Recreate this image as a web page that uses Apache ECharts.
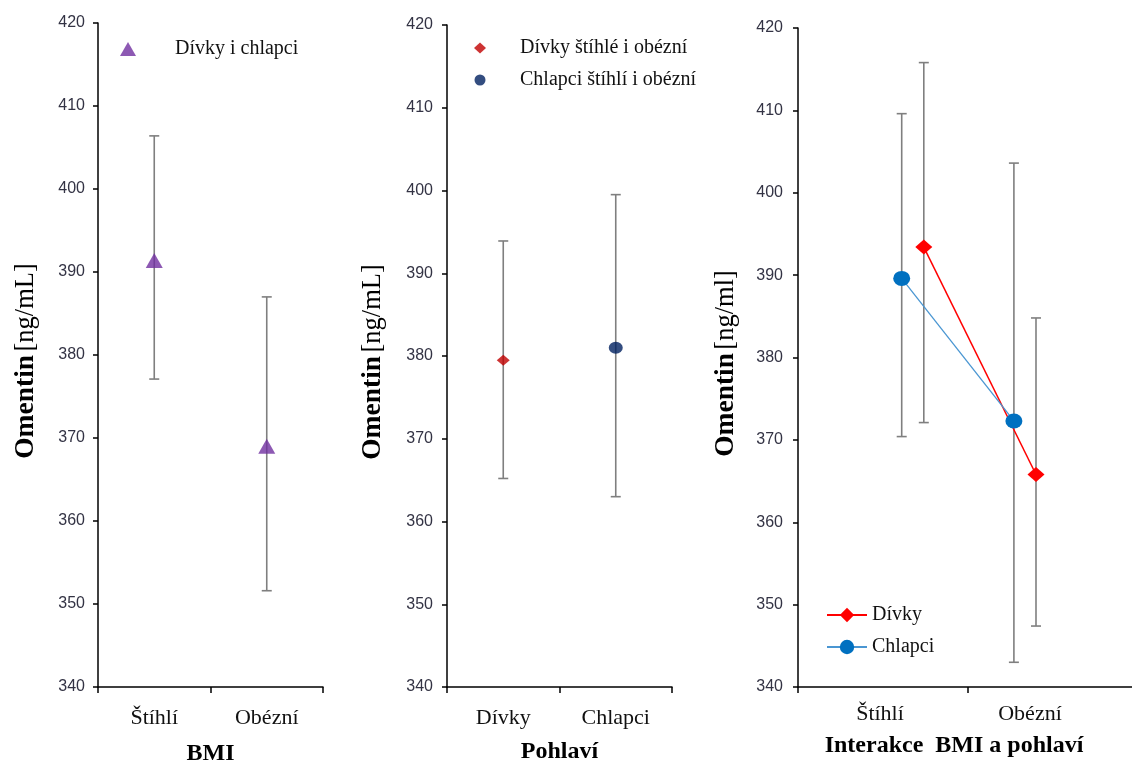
<!DOCTYPE html>
<html>
<head>
<meta charset="utf-8">
<script src="https://cdn.jsdelivr.net/npm/echarts@6/dist/echarts.min.js"></script>
<style>
html,body{margin:0;padding:0;background:#fff;}
#c{width:1132px;height:765px;}
</style>
</head>
<body>
<div id="c"></div>
<script>
// ---- data ----
var yTicks = [340, 350, 360, 370, 380, 390, 400, 410, 420];
var bmiCategories = ['Štíhlí', 'Obézní'];
var bmiMean = [391.4, 369.0];
var bmiLow = [377.1, 351.6];
var bmiHigh = [406.4, 387.0];

var sexCategories = ['Dívky', 'Chlapci'];
var girlsAllMean = [379.5];
var girlsAllLow = [365.2];
var girlsAllHigh = [393.9];
var boysAllMean = [381.0];
var boysAllLow = [363.0];
var boysAllHigh = [399.5];

var interCategories = ['Štíhlí', 'Obézní'];
var girlsX = [0.74, 1.40];
var girlsMean = [393.4, 365.8];
var girlsLow = [372.1, 347.4];
var girlsHigh = [415.8, 384.8];
var boysX = [0.61, 1.27];
var boysMean = [389.6, 372.3];
var boysLow = [370.4, 343.0];
var boysHigh = [409.6, 403.6];

// ---- helpers ----
var SERIF = '"Liberation Serif", "Times New Roman", serif';
var SANS = '"Liberation Sans", Arial, sans-serif';
var ERR = '#7f7f7f';

function errSeries(name, xi, yi, rows) {
  return {
    type: 'custom', name: name, xAxisIndex: xi, yAxisIndex: yi, z: 1, silent: true,
    data: rows,
    renderItem: function (params, api) {
      var x = api.value(0);
      var p1 = api.coord([x, api.value(1)]);
      var p2 = api.coord([x, api.value(2)]);
      var cw = 5;
      var st = { stroke: ERR, lineWidth: 1.6 };
      return { type: 'group', children: [
        { type: 'line', shape: { x1: p1[0], y1: p1[1], x2: p2[0], y2: p2[1] }, style: st },
        { type: 'line', shape: { x1: p1[0] - cw, y1: p1[1], x2: p1[0] + cw, y2: p1[1] }, style: st },
        { type: 'line', shape: { x1: p2[0] - cw, y1: p2[1], x2: p2[0] + cw, y2: p2[1] }, style: st }
      ]};
    }
  };
}
function rowsCat(low, high, offset) {
  return low.map(function (l, i) { return [i + (offset || 0), l, high[i]]; });
}
function rowsVal(xs, low, high) {
  return xs.map(function (x, i) { return [x, low[i], high[i]]; });
}
function pairs(xs, ys) { return xs.map(function (x, i) { return [x, ys[i]]; }); }

function yAxis(gi, name, gap, margin) {
  return {
    type: 'value', gridIndex: gi, min: yTicks[0], max: yTicks[yTicks.length - 1], interval: 10,
    splitLine: { show: false },
    axisLine: { show: true, lineStyle: { color: '#000', width: 1.5 } },
    axisTick: { show: true, length: 5, lineStyle: { color: '#000', width: 1.5 } },
    axisLabel: { fontFamily: SANS, fontSize: 16, color: '#333344', margin: margin },
    name: '{b|Omentin} {r|' + name + '}',
    nameLocation: 'middle', nameGap: gap,
    nameTextStyle: {
      color: '#000',
      padding: [0, 12, 0, 0],
      rich: {
        b: { fontFamily: SERIF, fontWeight: 'bold', fontSize: 27.5, color: '#000' },
        r: { fontFamily: SERIF, fontWeight: 'normal', fontSize: 26.5, color: '#000' }
      }
    }
  };
}
function xCat(gi, cats, name, gap, labelMargin, labelOpts, nameOpts) {
  return {
    type: 'category', gridIndex: gi, data: cats, boundaryGap: true,
    axisLine: { show: true, onZero: false, lineStyle: { color: '#000', width: 1.5 } },
    axisTick: { show: true, length: 6, lineStyle: { color: '#000', width: 1.5 } },
    axisLabel: Object.assign({ fontFamily: SERIF, fontSize: 22, color: '#111', margin: labelMargin }, labelOpts || {}),
    name: name, nameLocation: 'middle', nameGap: gap,
    nameTextStyle: Object.assign({ fontFamily: SERIF, fontWeight: 'bold', fontSize: 24, color: '#000' }, nameOpts || {})
  };
}

var legendText = { fontFamily: SERIF, fontSize: 20, color: '#111' };

var option = {
  animation: false,
  backgroundColor: '#fff',
  grid: [
    { left: 98, top: 23, width: 225, height: 664, containLabel: false, outerBoundsMode: 'none' },
    { left: 447, top: 25, width: 225, height: 662, containLabel: false, outerBoundsMode: 'none' },
    { left: 798, top: 28, width: 340, height: 659, containLabel: false, outerBoundsMode: 'none' }
  ],
  xAxis: [
    xCat(0, bmiCategories, 'BMI', 55, 20),
    xCat(1, sexCategories, 'Pohlaví', 53, 20),
    xCat(2, interCategories, 'Interakce  BMI a pohlaví', 47, 16, {
      formatter: function (v, i) { return i === 1 ? '{o|' + v + '}' : '{s|' + v + '}'; },
      rich: {
        s: { fontFamily: SERIF, fontSize: 22, color: '#111', padding: [0, 6, 0, 0] },
        o: { fontFamily: SERIF, fontSize: 22, color: '#111', padding: [0, 46, 0, 0] }
      }
    }, { padding: [0, 28, 0, 0] }),
    { type: 'value', gridIndex: 2, min: 0, max: 2, show: false }
  ],
  yAxis: [
    yAxis(0, '[ng/mL]', 58, 13),
    yAxis(1, '[ng/mL]', 60, 14),
    yAxis(2, '[ng/ml]', 58, 15)
  ],
  legend: [
    {
      left: 120, top: 39, padding: 0, itemWidth: 16, itemHeight: 14,
      data: [{ name: 'Dívky i chlapci', icon: 'triangle' }],
      textStyle: Object.assign({ padding: [0, 0, 0, 34] }, legendText)
    },
    {
      left: 474, top: 38, padding: 0, orient: 'vertical', itemGap: 12, itemWidth: 12, itemHeight: 11,
      data: [{ name: 'Dívky štíhlé i obézní', icon: 'diamond' }, { name: 'Chlapci štíhlí i obézní', icon: 'circle' }],
      textStyle: Object.assign({ padding: [0, 0, 0, 29] }, legendText)
    },
    {
      left: 826, top: 605, padding: 0, orient: 'vertical', itemGap: 12, itemWidth: 40, itemHeight: 18,
      data: ['Dívky', 'Chlapci'],
      textStyle: legendText
    }
  ],
  series: [
    errSeries('errBMI', 0, 0, rowsCat(bmiLow, bmiHigh)),
    {
      type: 'scatter', name: 'Dívky i chlapci', xAxisIndex: 0, yAxisIndex: 0, z: 3,
      symbol: 'triangle', symbolSize: [17, 15],
      itemStyle: { color: '#7030a0' },
      data: bmiMean.map(function (v, i) { return [i, v]; })
    },
    errSeries('errGirlsAll', 1, 1, rowsCat(girlsAllLow, girlsAllHigh)),
    errSeries('errBoysAll', 1, 1, rowsCat(boysAllLow, boysAllHigh, 1)),
    {
      type: 'scatter', name: 'Dívky štíhlé i obézní', xAxisIndex: 1, yAxisIndex: 1, z: 3,
      symbol: 'diamond', symbolSize: [13, 11],
      itemStyle: { color: '#c00000' },
      data: girlsAllMean.map(function (v) { return [0, v]; })
    },
    {
      type: 'scatter', name: 'Chlapci štíhlí i obézní', xAxisIndex: 1, yAxisIndex: 1, z: 3,
      symbol: 'circle', symbolSize: [14, 12],
      itemStyle: { color: '#002060' },
      data: boysAllMean.map(function (v) { return [1, v]; })
    },
    errSeries('errGirls', 3, 2, rowsVal(girlsX, girlsLow, girlsHigh)),
    errSeries('errBoys', 3, 2, rowsVal(boysX, boysLow, boysHigh)),
    {
      type: 'line', name: 'Dívky', xAxisIndex: 3, yAxisIndex: 2, z: 3,
      symbol: 'diamond', symbolSize: [17, 15],
      lineStyle: { color: '#ff0000', width: 1.5 },
      itemStyle: { color: '#ff0000' },
      data: pairs(girlsX, girlsMean)
    },
    {
      type: 'line', name: 'Chlapci', xAxisIndex: 3, yAxisIndex: 2, z: 4,
      symbol: 'circle', symbolSize: [17, 15],
      lineStyle: { color: '#4a96d2', width: 1.3 },
      itemStyle: { color: '#0070c0' },
      data: pairs(boysX, boysMean)
    }
  ]
};

var chart = echarts.init(document.getElementById('c'), null, { renderer: 'canvas' });
chart.setOption(option);
</script>
</body>
</html>
